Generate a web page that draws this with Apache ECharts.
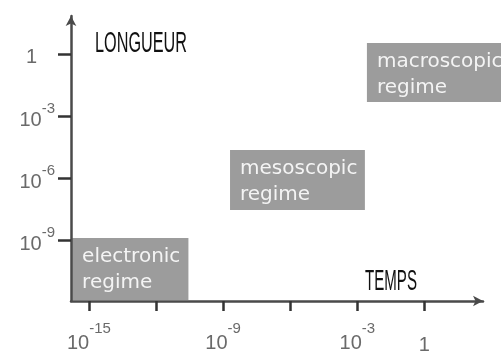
<!DOCTYPE html>
<html>
<head>
<meta charset="utf-8">
<script src="https://cdn.jsdelivr.net/npm/echarts@6/dist/echarts.min.js"></script>
<style>html,body{margin:0;padding:0;background:#fff}#c{width:501px;height:356px}</style>
</head>
<body>
<div id="c"></div>
<script>
// exponents (log10) of time and length
const xTickExps = [-15, -12, -9, -6, -3, 0];
const xLabelExps = [-15, -9, -3, 0];
const yTickExps = [-9, -6, -3, 0];
const yLabelExps = [-9, -6, -3, 0];
const regionNames = ['electronic\nregime', 'mesoscopic\nregime', 'macroscopic\nregime'];
const regionTimeFrom = [-15.75, -8.69, -2.57];
const regionTimeTo = [-10.55, -2.66, 3.7];
const regionLenFrom = [-11.9, -7.55, -2.32];
const regionLenTo = [-8.9, -4.64, 0.53];
const xName = 'TEMPS';
const yName = 'LONGUEUR';

const chart = echarts.init(document.getElementById('c'), null, {renderer: 'canvas'});

function expLabel(v) {
  if (v === 0) return '{one|1}';
  return '{b|10}{s|' + v + '}';
}

const regionData = regionNames.map((n, i) => [regionTimeFrom[i], regionTimeTo[i], regionLenFrom[i], regionLenTo[i], i]);

const labelFont = 'Liberation Sans, Arial, sans-serif';

chart.setOption({
  animation: false,
  backgroundColor: '#ffffff',
  grid: {left: 71, right: 18, top: 16, bottom: 55, containLabel: false},
  xAxis: {
    type: 'value', min: -15.8, max: 2.62, z: 5,
    splitLine: {show: false},
    axisLine: {show: true, onZero: false, lineStyle: {color: '#4a4a4a', width: 2.5}, symbol: ['none', 'arrow'], symbolSize: [8, 10]},
    axisTick: {show: true, customValues: xTickExps, length: 10, lineStyle: {color: '#333', width: 2.5}},
    axisLabel: {
      show: true, customValues: xLabelExps, margin: 20, color: '#6a6a6a',
      formatter: expLabel,
      rich: {
        b: {fontSize: 20, fontFamily: labelFont, color: '#6a6a6a', verticalAlign: 'bottom', padding: [12, 0, 0, 0]},
        s: {fontSize: 15, fontFamily: labelFont, color: '#6a6a6a', verticalAlign: 'top'},
        one: {fontSize: 20, fontFamily: labelFont, color: '#6a6a6a', padding: [14, 0, 0, 0]}
      }
    }
  },
  yAxis: {
    type: 'value', min: -11.95, max: 1.84, z: 5,
    splitLine: {show: false},
    axisLine: {show: true, onZero: false, lineStyle: {color: '#4a4a4a', width: 2.5}, symbol: ['none', 'arrow'], symbolSize: [8, 10]},
    axisTick: {show: true, customValues: yTickExps, length: 13, lineStyle: {color: '#333', width: 2.5}},
    axisLabel: {
      show: true, customValues: yLabelExps, margin: 16, color: '#6a6a6a',
      formatter: expLabel,
      rich: {
        b: {fontSize: 20, fontFamily: labelFont, color: '#6a6a6a', verticalAlign: 'bottom', padding: [9, 0, 0, 0]},
        s: {fontSize: 15, fontFamily: labelFont, color: '#6a6a6a', verticalAlign: 'top'},
        one: {fontSize: 20, fontFamily: labelFont, color: '#6a6a6a', padding: [6, 18, 0, 0]}
      }
    }
  },
  graphic: [
    {type: 'text', x: 95, y: 44, scaleX: 0.56, z: 10,
     style: {text: yName, font: '29px "Liberation Sans", Arial, sans-serif', fill: '#111', align: 'left', verticalAlign: 'middle'}},
    {type: 'text', x: 365, y: 282, scaleX: 0.52, z: 10,
     style: {text: xName, font: '29px "Liberation Sans", Arial, sans-serif', fill: '#111', align: 'left', verticalAlign: 'middle'}}
  ],
  series: [{
    type: 'custom', z: 1, clip: false,
    data: regionData,
    encode: {x: [0, 1], y: [2, 3]},
    renderItem: function (params, api) {
      const p0 = api.coord([api.value(0), api.value(3)]);
      const p1 = api.coord([api.value(1), api.value(2)]);
      const idx = api.value(4);
      return {
        type: 'group',
        children: [
          {type: 'rect', shape: {x: p0[0], y: p0[1], width: p1[0] - p0[0], height: p1[1] - p0[1]},
           style: {fill: '#9c9c9c'}},
          {type: 'text', x: p0[0] + 10, y: p0[1] + 6,
           style: {text: regionNames[idx], fill: '#f4f4f4', font: '20px "DejaVu Sans", sans-serif',
                   lineHeight: 26, align: 'left', verticalAlign: 'top'}}
        ]
      };
    }
  }]
});
</script>
</body>
</html>
